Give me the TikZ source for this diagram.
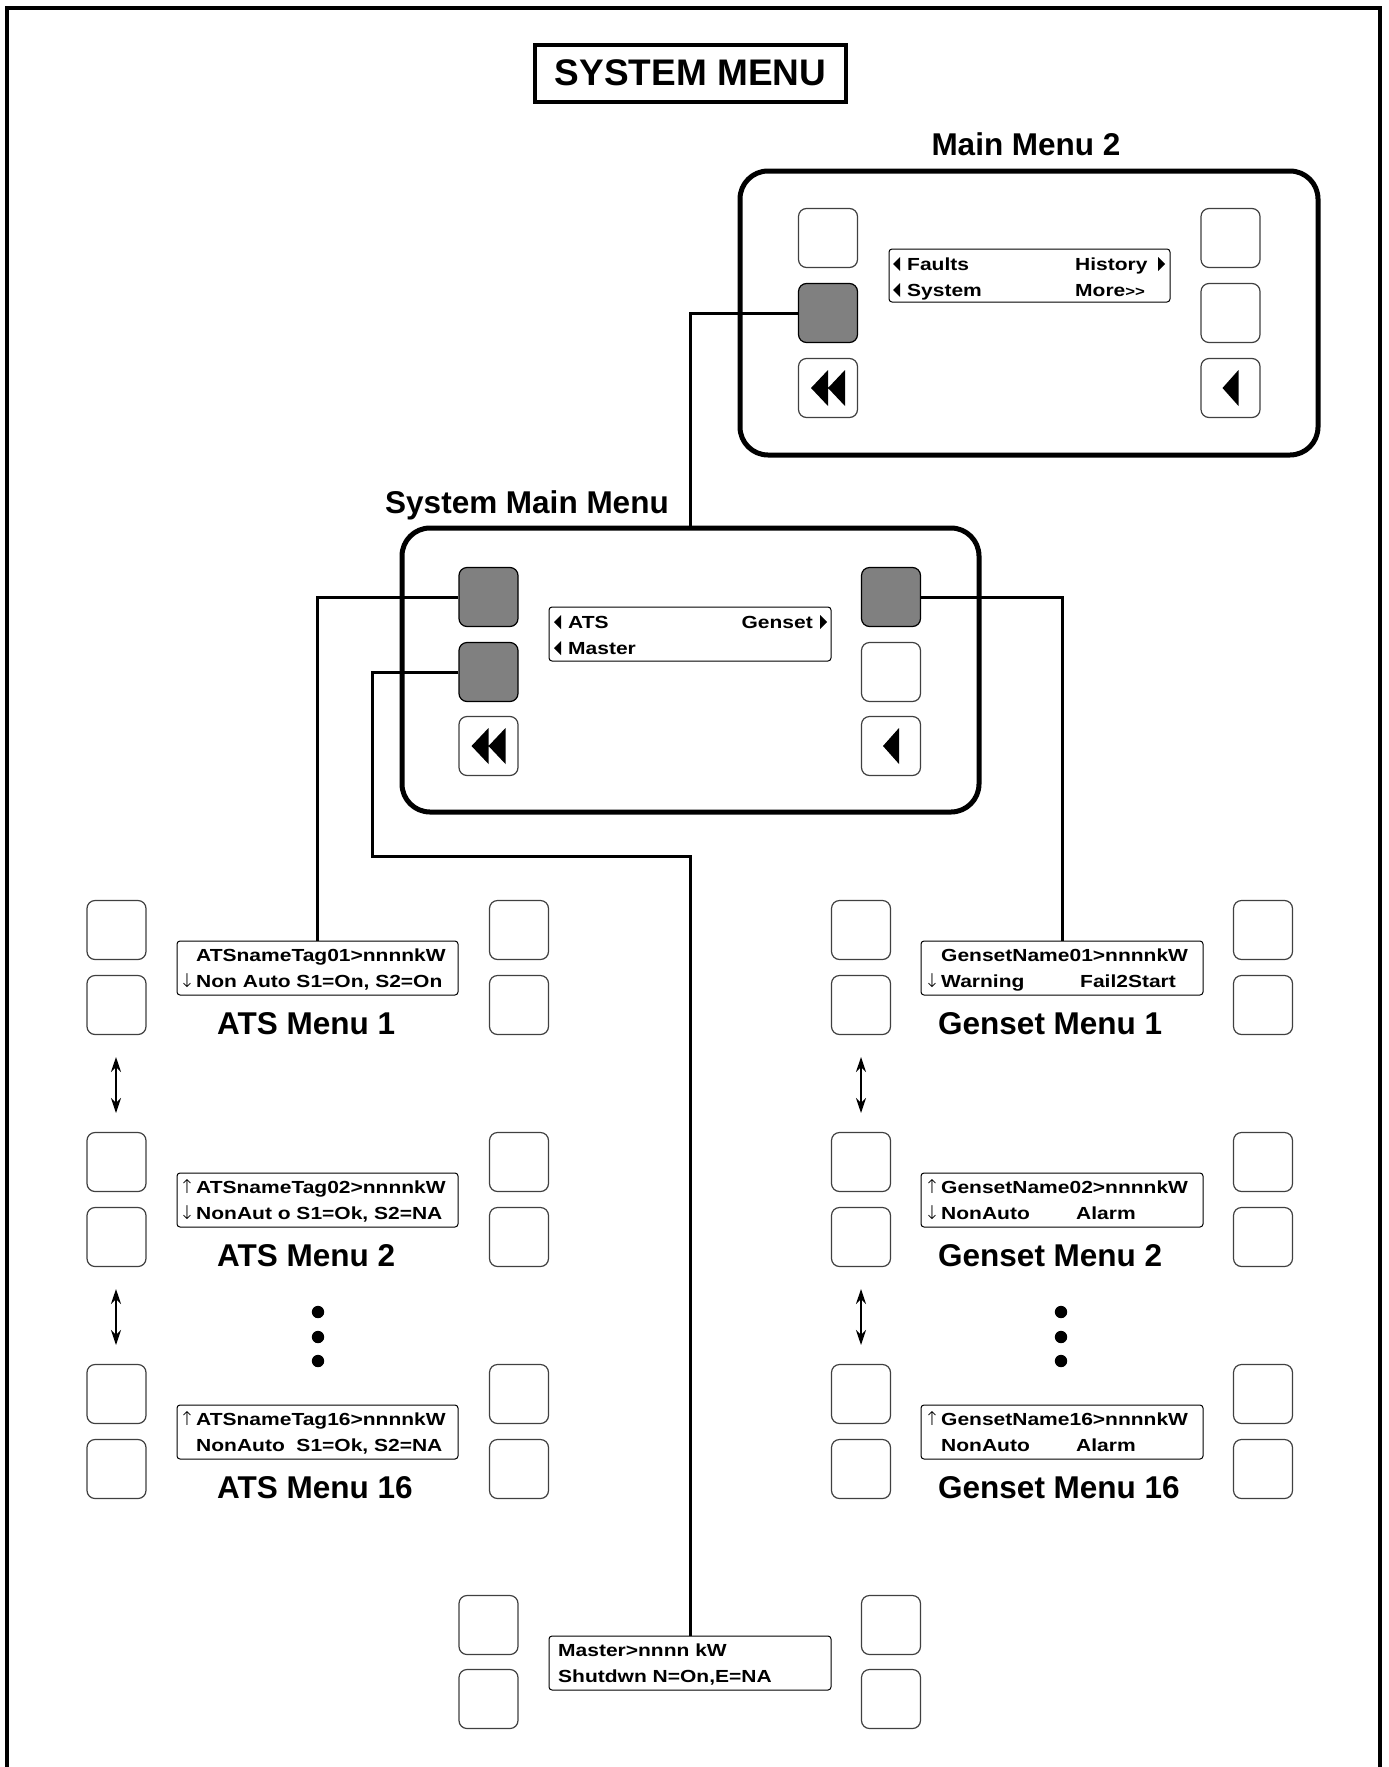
\documentclass[tikz,border=0pt]{standalone}
\usepackage{fontspec}
\setmainfont{Liberation Sans}
\newfontfamily\scrfont[FakeStretch=1.2]{Liberation Sans Bold}
\newfontfamily\arrfont{DejaVu Sans ExtraLight}
\usetikzlibrary{arrows.meta}
\definecolor{btngray}{HTML}{808080}
\begin{document}
\begin{tikzpicture}[x=1pt,y=-1pt,
  frame/.style={line width=4},
  panel/.style={draw, line width=5, rounded corners=28, inner sep=0, fill=white},
  btn/.style={draw=black!75, line width=1.2, rounded corners=8, minimum width=59, minimum height=59, inner sep=0, fill=white},
  gbtn/.style={btn, draw=black, fill=btngray},
  screen/.style={draw, line width=1, rounded corners=3, inner sep=0, fill=white, minimum height=54},
  stxt/.style={inner sep=0, anchor=base west, font={\scrfont\fontsize{17.5}{21}\selectfont}},
  stxtr/.style={stxt, anchor=base east},
  sarr/.style={inner sep=0, anchor=base west, font={\arrfont\fontsize{19}{23}\selectfont}},
  lbl/.style={inner sep=0, font={\fontsize{31.5}{36}\selectfont\bfseries}},
  conn/.style={line width=3},
  updown/.style={line width=1.8, {Stealth[length=15,width=10]}-{Stealth[length=15,width=10]}},
  tri/.style={fill=black}
]
\useasboundingbox (0,0) rectangle (1389,1767);
\fill[white] (0,0) rectangle (1389,1767);
% outer frame (open at bottom)
\draw[frame] (7,1767) -- (7,7.5) -- (1380,7.5) -- (1380,1767);

% title
\node[draw, line width=4, minimum width=311, minimum height=57, inner sep=0,
      font={\fontsize{37}{44}\selectfont\bfseries}] (title) at (690.5,73) {SYSTEM MENU};

% ---------------- Main Menu 2 ----------------
\node[lbl, anchor=base] (mm2lbl) at (1026,155.5) {Main Menu 2};
\node[panel, minimum width=578, minimum height=284] (mm2) at (1029,313) {};
\node[btn]  (m2l1) at (828,238) {};
\node[gbtn] (m2l2) at (828,313) {};
\node[btn]  (m2l3) at (828,388) {};
\node[btn]  (m2r1) at (1230.5,238) {};
\node[btn]  (m2r2) at (1230.5,313) {};
\node[btn]  (m2r3) at (1230.5,388) {};
\fill[shift={(m2l3.center)}] (-17,0) -- (0,-18) -- (0,18) -- cycle (0,0) -- (17,-18) -- (17,18) -- cycle;
\fill[shift={(m2r3.center)}] (-8,0) -- (8,-18) -- (8,18) -- cycle;
\node[screen, minimum width=281, minimum height=53] (m2s) at (1029.5,275.5) {};
\fill[tri] (900,257) -- (893,264) -- (900,271) -- cycle;
\fill[tri] (900,283) -- (893,290) -- (900,297) -- cycle;
\fill[tri] (1158,257) -- (1165,264) -- (1158,271) -- cycle;
\node[stxt] (m2t1) at (907,270) {Faults};
\node[stxt] (m2t2) at (907,296) {System};
\node[stxt] (m2t3) at (1075,270) {History};
\node[stxt] (m2t4) at (1075,296) {More{\fontsize{14}{17}\selectfont >>}};

% ---------------- System Main Menu ----------------
\node[lbl, anchor=base] (smmlbl) at (527,513.5) {System Main Menu};
\node[panel, minimum width=577, minimum height=284] (smm) at (690.5,670) {};
\node[gbtn] (sl1) at (488.5,597) {};
\node[gbtn] (sl2) at (488.5,672) {};
\node[btn]  (sl3) at (488.5,746) {};
\node[gbtn] (sr1) at (891,597) {};
\node[btn]  (sr2) at (891,672) {};
\node[btn]  (sr3) at (891,746) {};
\fill[shift={(sl3.center)}] (-17,0) -- (0,-18) -- (0,18) -- cycle (0,0) -- (17,-18) -- (17,18) -- cycle;
\fill[shift={(sr3.center)}] (-8,0) -- (8,-18) -- (8,18) -- cycle;
\node[screen, minimum width=282] (sms) at (690,634) {};
\fill[tri] (561,615) -- (554,622) -- (561,629) -- cycle;
\fill[tri] (561,641) -- (554,648) -- (561,655) -- cycle;
\fill[tri] (820,615) -- (827,622) -- (820,629) -- cycle;
\node[stxt] (smt1) at (568,628) {ATS};
\node[stxt] (smt2) at (568,654) {Master};
\node[stxtr] (smt3) at (813,628) {Genset};

% ---------------- ATS and Genset menus ----------------
\foreach \n/\T in {1/941, 2/1173, 16/1405} {
  \node[btn] (al\n a) at (116.5,{\T-11}) {};
  \node[btn] (al\n b) at (116.5,{\T+64}) {};
  \node[btn] (ar\n a) at (519,{\T-11}) {};
  \node[btn] (ar\n b) at (519,{\T+64}) {};
  \node[screen, minimum width=281] (as\n) at (317.5,{\T+27}) {};
  \node[lbl, anchor=base west] (alb\n) at (217,{\T+93}) {ATS Menu \n};
  \node[btn] (gl\n a) at (861,{\T-11}) {};
  \node[btn] (gl\n b) at (861,{\T+64}) {};
  \node[btn] (gr\n a) at (1263,{\T-11}) {};
  \node[btn] (gr\n b) at (1263,{\T+64}) {};
  \node[screen, minimum width=282] (gs\n) at (1062,{\T+27}) {};
  \node[lbl, anchor=base west] (glb\n) at (938,{\T+93}) {Genset Menu \n};
}
% ATS screen texts
\node[stxt] (at11) at (196,961) {ATSnameTag01>nnnnkW};
\node[sarr] (aa12) at (179,987) {↓};
\node[stxt] (at12) at (196,987) {Non Auto S1=On, S2=On};
\node[sarr] (aa21) at (179,1193) {↑};
\node[stxt] (at21) at (196,1193) {ATSnameTag02>nnnnkW};
\node[sarr] (aa22) at (179,1219) {↓};
\node[stxt] (at22) at (196,1219) {NonAut o S1=Ok, S2=NA};
\node[sarr] (aa31) at (179,1425) {↑};
\node[stxt] (at31) at (196,1425) {ATSnameTag16>nnnnkW};
\node[stxt] (at32) at (196,1451) {NonAuto\ \ S1=Ok, S2=NA};
% Genset screen texts
\node[stxt] (gt11) at (941,961) {GensetName01>nnnnkW};
\node[sarr] (ga12) at (924,987) {↓};
\node[stxt] (gt12) at (941,987) {Warning};
\node[stxt] (gt13) at (1080,987) {Fail2Start};
\node[sarr] (ga21) at (924,1193) {↑};
\node[stxt] (gt21) at (941,1193) {GensetName02>nnnnkW};
\node[sarr] (ga22) at (924,1219) {↓};
\node[stxt] (gt22) at (941,1219) {NonAuto};
\node[stxt] (gt23) at (1076,1219) {Alarm};
\node[sarr] (ga31) at (924,1425) {↑};
\node[stxt] (gt31) at (941,1425) {GensetName16>nnnnkW};
\node[stxt] (gt32) at (941,1451) {NonAuto};
\node[stxt] (gt33) at (1076,1451) {Alarm};

% scroll arrows
\foreach \T/\k in {941/1, 1173/2} {
  \coordinate (au\k) at (116,{\T+116});
  \coordinate (ad\k) at (116,{\T+172});
  \draw[updown] (au\k) -- (ad\k);
  \coordinate (gu\k) at (861,{\T+116});
  \coordinate (gd\k) at (861,{\T+172});
  \draw[updown] (gu\k) -- (gd\k);
}
% ellipsis dots
\foreach \y in {1312,1337,1361} {
  \fill (318,\y) circle (6.2);
  \fill (1061,\y) circle (6.2);
}

% ---------------- Master menu ----------------
\node[btn] (ml1) at (488.5,1625) {};
\node[btn] (ml2) at (488.5,1699) {};
\node[btn] (mr1) at (891,1625) {};
\node[btn] (mr2) at (891,1699) {};
\node[screen, minimum width=282] (ms) at (690,1663) {};
\node[stxt] (mt1) at (558,1656) {Master>nnnn kW};
\node[stxt] (mt2) at (558,1682) {Shutdwn N=On,E=NA};

% ---------------- connectors ----------------
\draw[conn] (m2l2.west) -| (smm.north);
\draw[conn] (sl1.west) -| (as1.north);
\draw[conn] (sr1.east) -| (gs1.north);
\coordinate (mk) at (372,856);
\draw[conn] (sl2.west) -| (mk) -| (ms.north);
\end{tikzpicture}
\end{document}
